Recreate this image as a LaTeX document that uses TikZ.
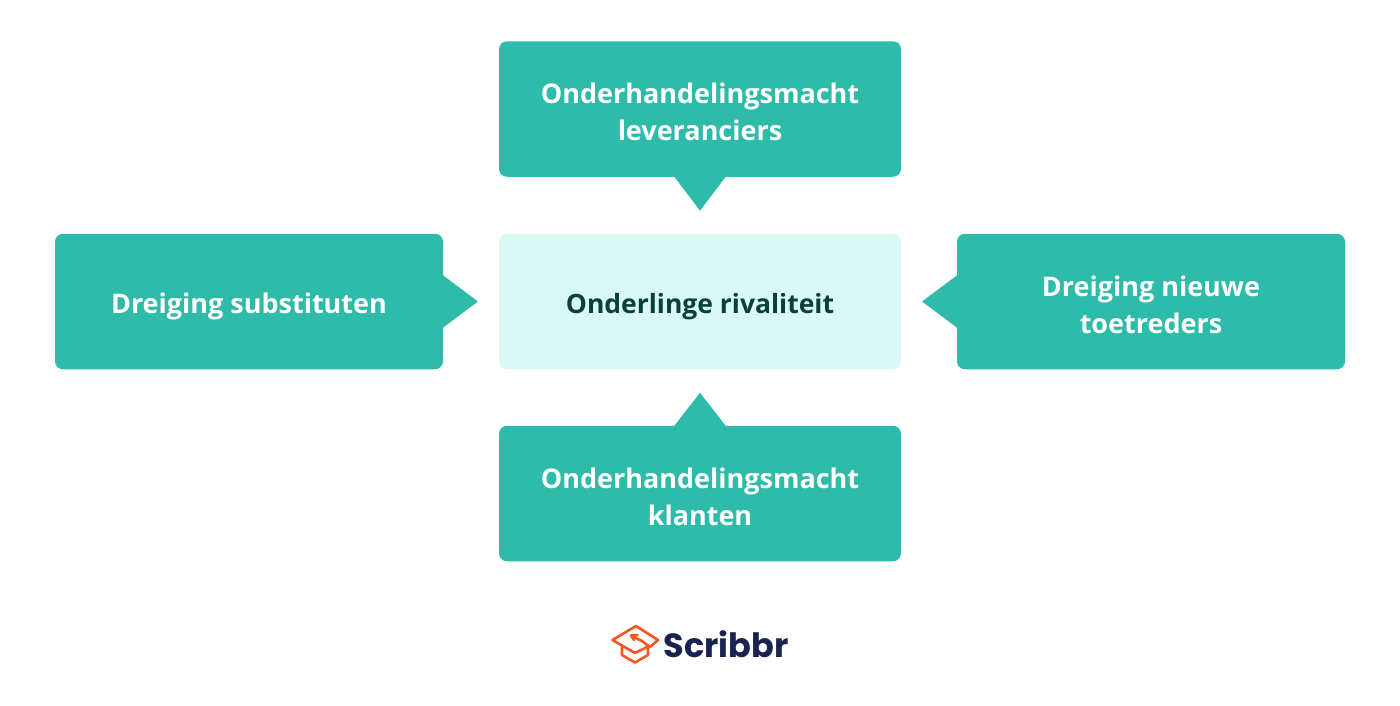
\documentclass[tikz,border=0pt]{standalone}
\usepackage{fontspec}
\setmainfont{Open Sans}
\newfontfamily\logofont{Poppins}
\definecolor{teal1}{HTML}{2EBBA9}
\definecolor{light1}{HTML}{D9F9F4}
\definecolor{dark1}{HTML}{0B3F3A}
\definecolor{orange1}{HTML}{F9561F}
\definecolor{navy1}{HTML}{1A2350}
\tikzset{
  x=1pt,y=-1pt,
  box/.style={fill=#1,rounded corners=8pt,inner sep=0pt,outer sep=0pt,minimum height=135.5pt},
  lbl/.style={inner sep=0pt,align=center,font=\bfseries\fontsize{27}{37}\selectfont},
  wbox/.style={box=teal1},
  tailshape/.style={fill=teal1,draw=none},
  hat/.style={draw=orange1,line width=2.6pt,line join=round,line cap=round},
}
\begin{document}
\begin{tikzpicture}
\useasboundingbox (0,0) rectangle (1400,705);
\node[wbox,minimum width=402pt] (top) at (700,109) {};
\node[box=light1,minimum width=402pt] (mid) at (700,301.5) {};
\node[wbox,minimum width=388pt] (left) at (249,301.5) {};
\node[wbox,minimum width=388pt] (right) at (1151,301.5) {};
\node[wbox,minimum width=402pt] (bot) at (700,493.5) {};
\node[lbl,text=white] (toptxt) at ([yshift=-3pt]top.center) {Onderhandelingsmacht\\leveranciers};
\node[lbl,text=dark1,font=\bfseries\fontsize{26.5}{37}\selectfont] (midtxt) at ([yshift=-5pt]mid.center) {Onderlinge rivaliteit};
\node[lbl,text=white] (lefttxt) at ([yshift=-5pt]left.center) {Dreiging substituten};
\node[lbl,text=white] (righttxt) at ([yshift=-3pt]right.center) {Dreiging nieuwe\\toetreders};
\node[lbl,text=white] (bottxt) at ([yshift=-3pt]bot.center) {Onderhandelingsmacht\\klanten};
\fill[tailshape] ([xshift=-26pt,yshift=0.5pt]top.south) -- ([yshift=-34pt]top.south) -- ([xshift=26pt,yshift=0.5pt]top.south) -- cycle;
\fill[tailshape] ([xshift=-26pt,yshift=-0.5pt]bot.north) -- ([yshift=33pt]bot.north) -- ([xshift=26pt,yshift=-0.5pt]bot.north) -- cycle;
\fill[tailshape] ([xshift=-0.5pt,yshift=26.5pt]left.east) -- ([xshift=35pt]left.east) -- ([xshift=-0.5pt,yshift=-26.5pt]left.east) -- cycle;
\fill[tailshape] ([xshift=0.5pt,yshift=26.5pt]right.west) -- ([xshift=-35pt]right.west) -- ([xshift=0.5pt,yshift=-26.5pt]right.west) -- cycle;
% logo
\draw[hat] (634,640) -- (631,635.5) -- (637.5,635) (631.5,636) -- (642,641) -- (650,647) -- (658,640) -- (636,626) -- (612.5,640) -- (635,653) -- (647,647);
\draw[hat] (622,646) -- (622,655) -- (635,662.5) -- (648,655) -- (648,647);
\node[inner sep=0pt,anchor=west,text=navy1,font=\logofont\bfseries\fontsize{33.5}{33.5}\selectfont] (logo) at (663.5,644.5) {Scribbr};
\end{tikzpicture}
\end{document}
